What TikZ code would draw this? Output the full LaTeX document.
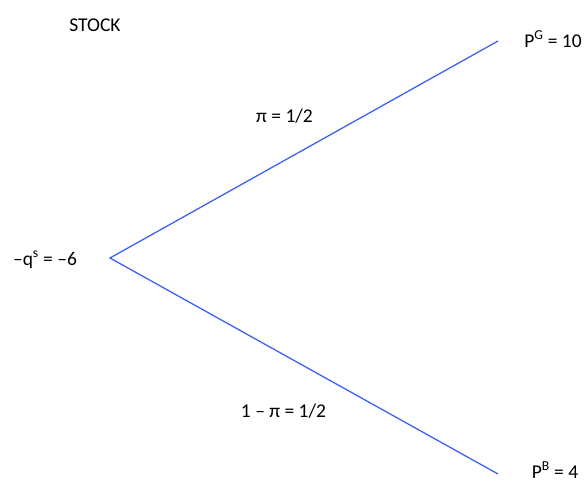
\documentclass[tikz,border=0pt]{standalone}
\usepackage{fontspec}
\setmainfont{Carlito}
\definecolor{lineblue}{RGB}{62,98,245}
\begin{document}
\begin{tikzpicture}[x=1pt,y=-1pt,
  lbl/.style={font=\fontsize{19.5}{22}\selectfont, inner sep=0pt, text=black, anchor=base},
  branch/.style={draw=lineblue, line width=1.3pt}]
\useasboundingbox (0,0) rectangle (587,483);
\coordinate (root) at (110,258);
\coordinate (up) at (498,41);
\coordinate (down) at (498,474);
\draw[branch] (up) -- (root) -- (down);
\node[lbl] (stock) at (95,31) {STOCK};
\node[lbl] (pg) at (553,47) {P\textsuperscript{G} = 10};
\node[lbl] (pb) at (555,478) {P\textsuperscript{B} = 4};
\node[lbl] (q) at (45,265) {–q\textsuperscript{s} = –6};
\node[lbl] (p1) at (284.5,122) {π = 1/2};
\node[lbl] (p2) at (283.5,417) {1 – π = 1/2};
\end{tikzpicture}
\end{document}
